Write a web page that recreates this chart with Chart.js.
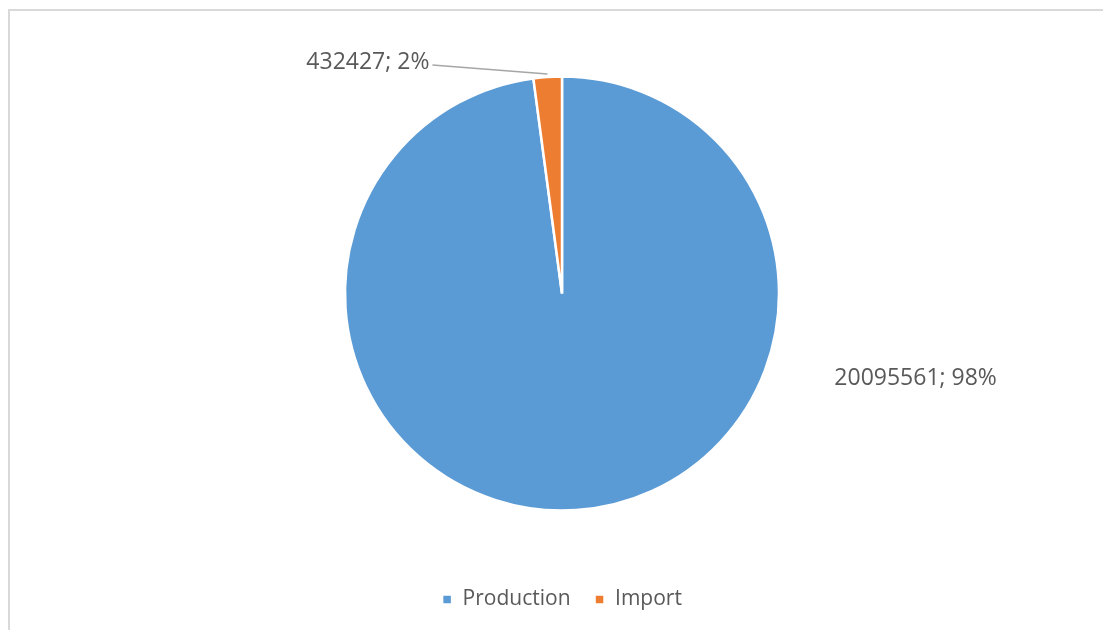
<!DOCTYPE html>
<html>
<head>
<meta charset="utf-8">
<script src="https://cdn.jsdelivr.net/npm/chart.js@4"></script>
<style>
  html, body { margin: 0; padding: 0; background: #fff; overflow: hidden; }
  #wrap { position: relative; width: 1103px; height: 630px; }
  #frame { position: absolute; left: 8px; top: 9px; width: 1100px; height: 640px;
           border-top: 2px solid #d9d9d9; border-left: 2px solid #d9d9d9; box-sizing: border-box; }
  canvas { position: absolute; left: 0; top: 0; }
</style>
</head>
<body>
<div id="wrap">
  <div id="frame"></div>
  <canvas id="chart" width="1103" height="630"></canvas>
</div>
<script>
const categories = ['Production', 'Import'];
const values = [20095561, 432427];
const colors = ['#5b9bd5', '#ed7d31'];

const FONT = '"Open Sans", sans-serif';
const TEXT_COLOR = '#595959';

// data labels "value; pct" drawn next to the slices
const labelPlugin = {
  id: 'pieLabels',
  afterDatasetsDraw(chart) {
    const ctx = chart.ctx;
    const meta = chart.getDatasetMeta(0);
    const total = values.reduce((a, b) => a + b, 0);
    ctx.save();
    ctx.font = '23px ' + FONT;
    ctx.fillStyle = TEXT_COLOR;
    ctx.textBaseline = 'middle';

    meta.data.forEach((arc, i) => {
      const pct = Math.round(values[i] / total * 100);
      const txt = values[i] + '; ' + pct + '%';
      const r = arc.outerRadius;
      if (i === 0) {
        ctx.textAlign = 'left';
        ctx.fillText(txt, arc.x + r * 1.255, arc.y + r * 0.39);
      } else {
        const mid = (arc.startAngle + arc.endAngle) / 2;
        const ex = arc.x + Math.cos(mid) * (r + 3);
        const ey = arc.y + Math.sin(mid) * (r + 3);
        const sx = ex - 115, sy = ey - 9;
        ctx.strokeStyle = '#a6a6a6';
        ctx.lineWidth = 1.5;
        ctx.beginPath();
        ctx.moveTo(sx, sy);
        ctx.lineTo(ex, ey);
        ctx.stroke();
        ctx.textAlign = 'right';
        ctx.fillText(txt, sx - 3, sy - 3);
      }
    });
    ctx.restore();
  }
};

new Chart(document.getElementById('chart'), {
  type: 'pie',
  data: {
    labels: categories,
    datasets: [{
      data: values,
      backgroundColor: colors,
      borderColor: '#ffffff',
      borderWidth: 2.5
    }]
  },
  plugins: [labelPlugin],
  options: {
    responsive: false,
    animation: false,
    radius: 217,
    layout: { padding: { top: 22, bottom: 10, left: 21, right: 0 } },
    plugins: {
      tooltip: { enabled: false },
      legend: {
        display: true,
        position: 'bottom',
        labels: {
          boxWidth: 10,
          boxHeight: 10,
          padding: 24,
          color: TEXT_COLOR,
          font: { family: FONT, size: 21 }
        }
      }
    }
  }
});
</script>
</body>
</html>
